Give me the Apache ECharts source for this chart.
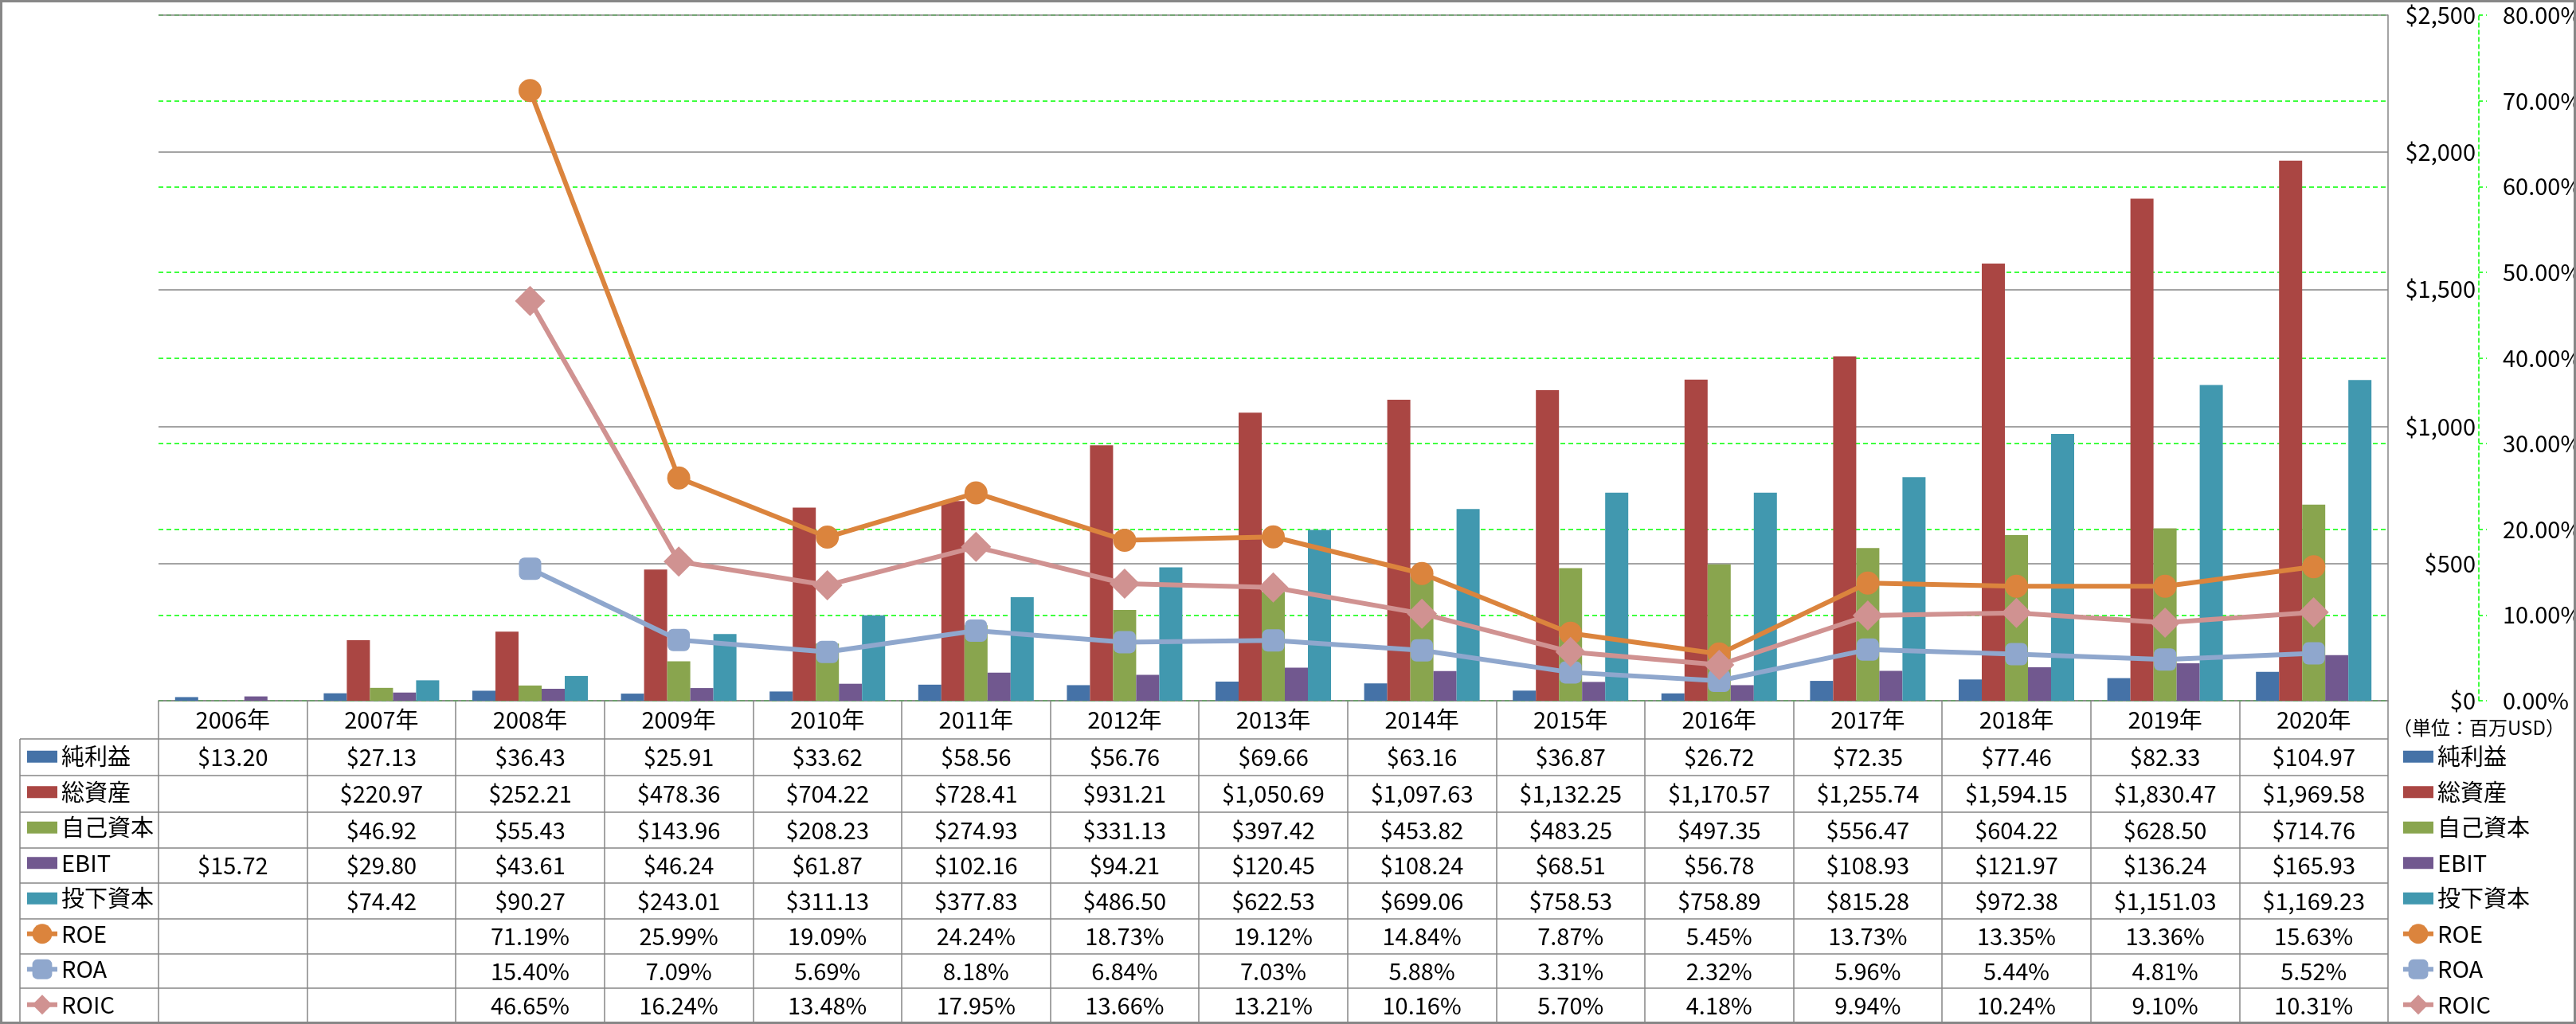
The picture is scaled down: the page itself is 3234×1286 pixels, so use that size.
<!DOCTYPE html>
<html><head><meta charset="utf-8">
<script src="https://cdn.jsdelivr.net/npm/echarts@6/dist/echarts.min.js"></script>
<style>html,body{margin:0;padding:0;background:#fff}#c{width:3234px;height:1286px}</style>
</head><body><div id="c"></div>
<script>
// ---------- DATA ----------
const years = ['2006年','2007年','2008年','2009年','2010年','2011年','2012年','2013年','2014年','2015年','2016年','2017年','2018年','2019年','2020年'];
const netIncome = [13.20,27.13,36.43,25.91,33.62,58.56,56.76,69.66,63.16,36.87,26.72,72.35,77.46,82.33,104.97];
const totalAssets = [null,220.97,252.21,478.36,704.22,728.41,931.21,1050.69,1097.63,1132.25,1170.57,1255.74,1594.15,1830.47,1969.58];
const equity = [null,46.92,55.43,143.96,208.23,274.93,331.13,397.42,453.82,483.25,497.35,556.47,604.22,628.50,714.76];
const ebit = [15.72,29.80,43.61,46.24,61.87,102.16,94.21,120.45,108.24,68.51,56.78,108.93,121.97,136.24,165.93];
const investedCapital = [null,74.42,90.27,243.01,311.13,377.83,486.50,622.53,699.06,758.53,758.89,815.28,972.38,1151.03,1169.23];
const roe = [null,null,71.19,25.99,19.09,24.24,18.73,19.12,14.84,7.87,5.45,13.73,13.35,13.36,15.63];
const roa = [null,null,15.40,7.09,5.69,8.18,6.84,7.03,5.88,3.31,2.32,5.96,5.44,4.81,5.52];
const roic = [null,null,46.65,16.24,13.48,17.95,13.66,13.21,10.16,5.70,4.18,9.94,10.24,9.10,10.31];
const seriesNames = ['純利益','総資産','自己資本','EBIT','投下資本','ROE','ROA','ROIC'];
const moneyTicks = [0,500,1000,1500,2000,2500];
const pctTicks = [0,10,20,30,40,50,60,70,80];
const unitLabel = '（単位：百万USD）';

// ---------- STYLE / LAYOUT ----------
const FONT = "'Noto Sans CJK JP', sans-serif";
const FS = 29;
const GRAY = '#868686';
const GREEN = '#00ff00';
const colors = ['#4572A7','#AA4643','#89A54E','#71588F','#4198AF','#DB843D','#8FA7CD','#D09291'];
const gridL = 199, gridR = 2998, gridT = 19, gridB = 880;
const rowLines = [928, 974, 1020, 1065, 1109, 1154, 1198, 1241, 1284];
const LW = 6;

const fmtMoney = v => (v == null ? '' : '$' + v.toLocaleString('en-US',{minimumFractionDigits:2, maximumFractionDigits:2}));
const fmtPct = v => (v == null ? '' : v.toFixed(2) + '%');
const rows = [
  netIncome.map(fmtMoney), totalAssets.map(fmtMoney), equity.map(fmtMoney), ebit.map(fmtMoney),
  investedCapital.map(fmtMoney), roe.map(fmtPct), roa.map(fmtPct), roic.map(fmtPct)
];

const chart = echarts.init(document.getElementById('c'), null, {renderer:'canvas'});

const xAxes = [{
  type:'category', data: years, gridIndex:0, position:'bottom',
  axisLine:{show:true, lineStyle:{color:GRAY, width:1.5}},
  axisTick:{show:true, inside:false, length: rowLines[8]-gridB, lineStyle:{color:GRAY, width:1.5}},
  axisLabel:{interval:0, margin:(rowLines[0]-gridB)/2, verticalAlign:'middle', color:'#000', fontSize:FS, fontFamily:FONT},
  splitLine:{show:false}
}];
rows.forEach((r, i) => {
  const top = rowLines[i], bot = rowLines[i+1];
  xAxes.push({
    type:'category', data: years, gridIndex:0, position:'bottom', offset: top - gridB,
    axisLine:{show:false}, axisTick:{show:false}, splitLine:{show:false},
    axisLabel:{interval:0, margin:(bot-top)/2, verticalAlign:'middle', color:'#000', fontSize:FS, fontFamily:FONT,
      formatter:(val, idx) => r[idx]}
  });
});

const barNames = seriesNames.slice(0,5);
const barData = [netIncome, totalAssets, equity, ebit, investedCapital];
const series = barNames.map((n,i) => ({
  name:n, type:'bar', xAxisIndex:0, yAxisIndex:0, data:barData[i],
  barWidth:29, barGap:'0%', itemStyle:{color:colors[i]}
}));
const lineDefs = [
  {name:'ROE', data:roe, symbol:'circle', size:29, color:colors[5]},
  {name:'ROA', data:roa, symbol:'roundRect', size:28, color:colors[6]},
  {name:'ROIC', data:roic, symbol:'diamond', size:38, color:colors[7]}
];
lineDefs.forEach(d => series.push({
  name:d.name, type:'line', xAxisIndex:0, yAxisIndex:1, data:d.data,
  symbol:d.symbol, symbolSize:d.size, showSymbol:true, connectNulls:false,
  lineStyle:{color:d.color, width:LW}, itemStyle:{color:d.color}, z:3
}));

const barIcon = 'path://M0,0H38V15H0Z';
const legendData = seriesNames.map((n,i) => i < 5 ? {name:n, icon:barIcon} : {name:n});
const legendBase = {
  orient:'vertical', top: rowLines[0], itemWidth:38, itemHeight:31, itemGap:0, padding:0,
  selectedMode:false, data: legendData,
  lineStyle:{width:LW},
  textStyle:{color:'#000', fontSize:FS, fontFamily:FONT, lineHeight:(rowLines[8]-rowLines[0])/8}
};

const option = {
  animation:false,
  backgroundColor:'#fff',
  textStyle:{fontFamily:FONT},
  grid:{left:gridL, right:3234-gridR, top:gridT, bottom:1286-gridB, containLabel:false, outerBoundsMode:'none'},
  legend:[
    Object.assign({}, legendBase, {left:31}),
    Object.assign({}, legendBase, {left:3014})
  ],
  xAxis: xAxes,
  yAxis:[
    {type:'value', position:'right', offset:0, min:moneyTicks[0], max:moneyTicks[moneyTicks.length-1], interval:moneyTicks[1]-moneyTicks[0],
      axisLine:{show:true, lineStyle:{color:GRAY, width:1.5}}, axisTick:{show:false},
      axisLabel:{margin:110, align:'right', color:'#000', fontSize:FS, fontFamily:FONT,
        formatter:v => '$' + v.toLocaleString('en-US')},
      splitLine:{show:true, lineStyle:{color:GRAY, width:1.5}}, z:2},
    {type:'value', position:'right', offset:114, min:pctTicks[0], max:pctTicks[pctTicks.length-1], interval:pctTicks[1]-pctTicks[0],
      axisLine:{show:true, lineStyle:{color:GREEN, width:1.5, type:[5,4]}},
      axisTick:{show:true, length:10, lineStyle:{color:GREEN, width:1.5, type:[5,4]}},
      axisLabel:{margin:30, color:'#000', fontSize:FS, fontFamily:FONT, formatter:v => v.toFixed(2) + '%'},
      splitLine:{show:true, lineStyle:{color:GREEN, width:1.5, type:[6,4]}}, z:1}
  ],
  series: series,
  graphic: [
    ...rowLines.map(y => ({type:'line', silent:true, z:10, shape:{x1:25, y1:y, x2:gridR, y2:y}, style:{stroke:GRAY, lineWidth:1.5}})),
    {type:'line', silent:true, z:10, shape:{x1:25, y1:rowLines[0], x2:25, y2:rowLines[8]}, style:{stroke:GRAY, lineWidth:1.5}},
    {type:'text', silent:true, z:10, x:3112, y:914, style:{text:unitLabel, fill:'#000', font:'24px ' + FONT, align:'center', verticalAlign:'middle'}},
    {type:'rect', silent:true, z:20, shape:{x:1.5, y:1.5, width:3231, height:1283}, style:{fill:null, stroke:'#878787', lineWidth:3}}
  ]
};
chart.setOption(option);
</script>
</body></html>
